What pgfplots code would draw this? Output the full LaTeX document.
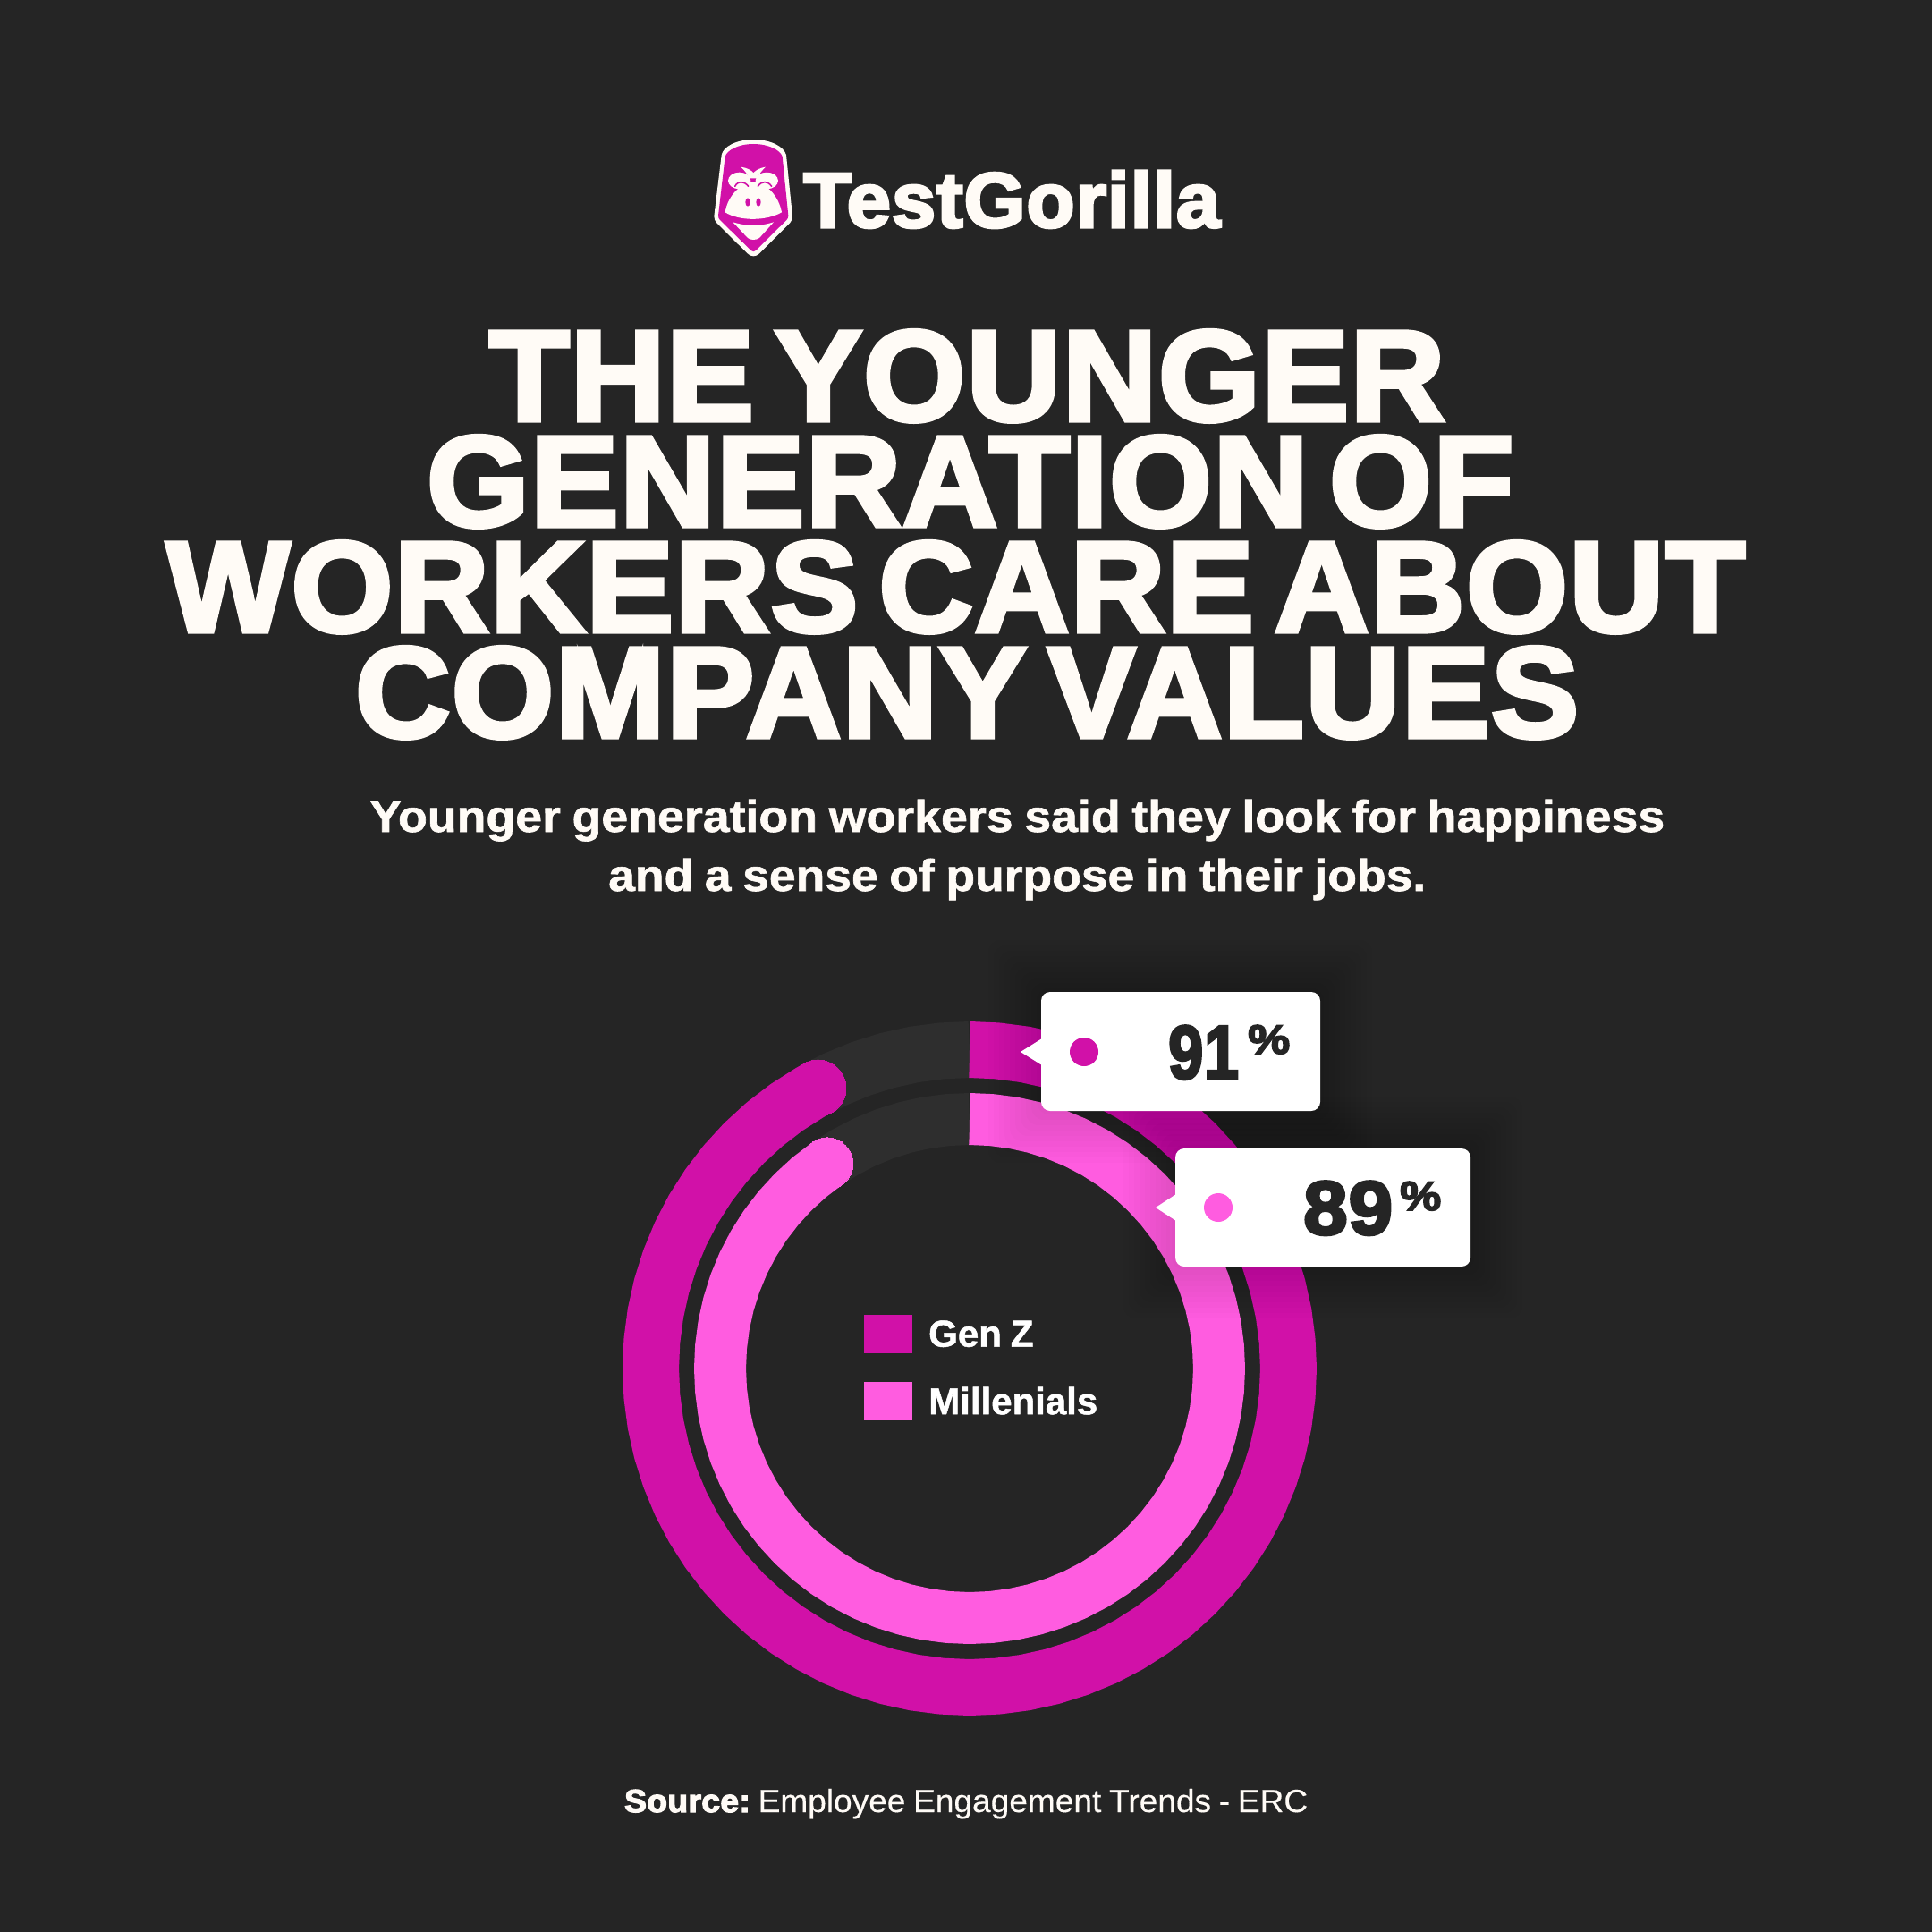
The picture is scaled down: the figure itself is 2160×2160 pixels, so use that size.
\documentclass[border=0pt]{standalone}
\usepackage{fontspec}
\usepackage{graphicx}
\usepackage{pgfplots}
\pgfplotsset{compat=1.18}
\setmainfont{Liberation Sans}
\newfontfamily\heavy{Liberation Sans}[WordSpace=0.55,LetterSpace=1.2,BoldFeatures={FakeBold=3.6}]
\newfontfamily\semi{Liberation Sans}[WordSpace=0.85,BoldFeatures={FakeBold=1.2}]
\newfontfamily\medium{Liberation Sans}[WordSpace=0.85,FakeBold=0.3]

\definecolor{bg}{HTML}{252525}
\definecolor{track}{HTML}{2E2E2E}
\definecolor{genz}{HTML}{D111A8}
\definecolor{mill}{HTML}{FF5CE0}
\definecolor{cream}{HTML}{FFFBF6}

% x, baseline y, width, text (pixel coordinates of the reference)
\newcommand{\fitline}[5]{\node[anchor=base west,inner sep=0pt,text=#5] at (#1pt,-#2pt) {\resizebox{#3pt}{\height}{#4}};}

\begin{document}
\begin{tikzpicture}
\fill[bg] (0,0) rectangle (2160pt,-2160pt);
\useasboundingbox (0,0) rectangle (2160pt,-2160pt);

% logo
\begin{scope}[shift={(780pt,-140pt)},x=0.3333pt,y=-0.3333pt]
  \fill[cream] (80,100) .. controls (85,72) and (130,48) .. (187,48) .. controls (245,48) and (290,72) .. (297,100)
    -- (318,305) .. controls (318,315) and (315,320) .. (310,327) -- (207,430) .. controls (196,442) and (178,442) .. (167,430)
    -- (63,327) .. controls (58,320) and (55,315) .. (55,305) -- cycle;
  \fill[genz] (92,105) .. controls (98,85) and (135,63) .. (187,63) .. controls (240,63) and (278,85) .. (284,105)
    -- (304,303) .. controls (304,310) and (302,314) .. (298,318) -- (195,420) .. controls (190,425) and (184,425) .. (179,420)
    -- (75,318) .. controls (71,314) and (69,310) .. (69,303) -- cycle;
  \fill[cream] (140,186) ellipse[x radius=38,y radius=28];
  \fill[cream] (232,186) ellipse[x radius=38,y radius=28];
  \fill[cream] (92,292) .. controls (100,240) and (140,195) .. (187,190) .. controls (235,195) and (272,240) .. (282,292)
    .. controls (230,322) and (140,322) .. (92,292) -- cycle;
  \fill[cream] (145,140) .. controls (165,143) and (180,150) .. (187,160) .. controls (195,150) and (210,143) .. (228,140)
    .. controls (215,152) and (205,165) .. (200,178) -- (172,178) .. controls (168,165) and (158,152) .. (145,140) -- cycle;
  \draw[genz,line width=1.6pt,line cap=round] (125,205) .. controls (135,186) and (155,186) .. (170,205);
  \draw[genz,line width=1.6pt,line cap=round] (202,205) .. controls (215,186) and (235,186) .. (248,205);
  \fill[genz] (168,258) ellipse[x radius=8,y radius=14];
  \fill[genz] (204,258) ellipse[x radius=8,y radius=14];
  \fill[cream] (118,325) .. controls (170,340) and (205,340) .. (255,325) -- (207,378) .. controls (195,386) and (178,386) .. (168,378) -- cycle;
\end{scope}
\fitline{898}{254}{466}{\heavy\bfseries\fontsize{87}{87}\selectfont TestGorilla}{cream}

% title
\fitline{547}{470}{1068}{\heavy\bfseries\fontsize{144}{144}\selectfont THE YOUNGER}{cream}
\fitline{477}{588}{1215}{\heavy\bfseries\fontsize{144}{144}\selectfont GENERATION OF}{cream}
\fitline{186}{706}{1765}{\heavy\bfseries\fontsize{144}{144}\selectfont WORKERS CARE ABOUT}{cream}
\fitline{397}{824}{1368}{\heavy\bfseries\fontsize{144}{144}\selectfont COMPANY VALUES}{cream}

% subtitle
\fitline{413}{930}{1448}{\semi\bfseries\fontsize{50}{50}\selectfont Younger generation workers said they look for happiness}{cream}
\fitline{680}{996}{914}{\semi\bfseries\fontsize{50}{50}\selectfont and a sense of purpose in their jobs.}{cream}

\begin{axis}[
    at={(1084pt,-1530pt)},anchor=center,
    scale only axis,width=800pt,height=800pt,
    xmin=-400,xmax=400,ymin=-400,ymax=400,
    hide axis,clip=false,
    data cs=polar,
    legend style={at={(axis cs:-118,60)},anchor=north west,draw=none,fill=none,
        font=\fontsize{42}{42}\selectfont\semi\bfseries,text=white,
        inner sep=0pt,row sep=32pt,
        /tikz/every odd column/.append style={column sep=16pt}},
    legend cell align=left,
    legend image code/.code={\fill[#1,draw=none] (0pt,-21.5pt) rectangle (54pt,21.5pt);},
]
% tracks
\addplot[forget plot,track,line width=63pt] coordinates {(90,356.5)(95,356.5)(100,356.5)(105,356.5)(110,356.5)(115,356.5)(120,356.5)};
\addplot[forget plot,track,line width=58pt] coordinates {(90,279)(95,279)(100,279)(105,279)(110,279)(115,279)(120,279)(125,279)};
% Gen Z, 91
\addplot[genz,line width=63pt,line join=round] coordinates {
(90,356.5)(89.9,356.5)(85,356.5)(80,356.5)(75,356.5)(70,356.5)(65,356.5)(60,356.5)(55,356.5)(50,356.5)(45,356.5)(40,356.5)(35,356.5)(30,356.5)(25,356.5)(20,356.5)(15,356.5)(10,356.5)(5,356.5)
(0,356.5)(-5,356.5)(-10,356.5)(-15,356.5)(-20,356.5)(-25,356.5)(-30,356.5)(-35,356.5)(-40,356.5)(-45,356.5)(-50,356.5)(-55,356.5)(-60,356.5)(-65,356.5)(-70,356.5)(-75,356.5)(-80,356.5)(-85,356.5)
(-90,356.5)(-95,356.5)(-100,356.5)(-105,356.5)(-110,356.5)(-115,356.5)(-120,356.5)(-125,356.5)(-130,356.5)(-135,356.5)(-140,356.5)(-145,356.5)(-150,356.5)(-155,356.5)(-160,356.5)(-165,356.5)(-170,356.5)(-175,356.5)
(-180,356.5)(-185,356.5)(-190,356.5)(-195,356.5)(-200,356.5)(-205,356.5)(-210,356.5)(-215,356.5)(-220,356.5)(-225,356.5)(-230,356.5)(-235,356.5)(-240,356.5)(-241.6,356.5)};
\addlegendentry{Gen Z}
% Millenials, 89
\addplot[mill,line width=58pt,line join=round] coordinates {
(90,279)(89.9,279)(85,279)(80,279)(75,279)(70,279)(65,279)(60,279)(55,279)(50,279)(45,279)(40,279)(35,279)(30,279)(25,279)(20,279)(15,279)(10,279)(5,279)
(0,279)(-5,279)(-10,279)(-15,279)(-20,279)(-25,279)(-30,279)(-35,279)(-40,279)(-45,279)(-50,279)(-55,279)(-60,279)(-65,279)(-70,279)(-75,279)(-80,279)(-85,279)
(-90,279)(-95,279)(-100,279)(-105,279)(-110,279)(-115,279)(-120,279)(-125,279)(-130,279)(-135,279)(-140,279)(-145,279)(-150,279)(-155,279)(-160,279)(-165,279)(-170,279)(-175,279)
(-180,279)(-185,279)(-190,279)(-195,279)(-200,279)(-205,279)(-210,279)(-215,279)(-220,279)(-225,279)(-230,279)(-235.2,279)};
\addlegendentry{Millenials}
% round ends
\addplot[forget plot,only marks,genz,mark=*,mark size=31.5pt,mark options={fill=genz,draw=genz,line width=0pt}] coordinates {(-241.6,356.5)};
\addplot[forget plot,only marks,mill,mark=*,mark size=29pt,mark options={fill=mill,draw=mill,line width=0pt}] coordinates {(-235.2,279)};
\end{axis}

% soft shadows under the cards
\foreach \e in {4,10,...,58} {
  \fill[black,opacity=0.012,rounded corners=14pt] (1163pt-\e pt,-1109pt+\e pt) rectangle (1476pt+\e pt,-1242pt-\e pt);
  \fill[black,opacity=0.012,rounded corners=14pt] (1314pt-\e pt,-1284pt+\e pt) rectangle (1644pt+\e pt,-1416pt-\e pt);
}
% card 91
\fill[white,rounded corners=10pt] (1164pt,-1109pt) rectangle (1476pt,-1242pt);
\fill[white] (1165pt,-1161pt) -- (1141pt,-1176pt) -- (1165pt,-1191pt) -- cycle;
\fill[genz] (1212pt,-1176pt) circle (16pt);
\fitline{1306}{1206}{79}{\heavy\bfseries\fontsize{85}{85}\selectfont 91}{bg}
\fitline{1395}{1178}{47}{\heavy\bfseries\fontsize{46}{46}\selectfont\%}{bg}
% card 89
\fill[white,rounded corners=10pt] (1314pt,-1284pt) rectangle (1644pt,-1416pt);
\fill[white] (1315pt,-1335pt) -- (1292pt,-1350pt) -- (1315pt,-1365pt) -- cycle;
\fill[mill] (1362pt,-1350pt) circle (16pt);
\fitline{1457}{1380}{100}{\heavy\bfseries\fontsize{85}{85}\selectfont 89}{bg}
\fitline{1565}{1353}{46}{\heavy\bfseries\fontsize{46}{46}\selectfont\%}{bg}

% source
\node[anchor=base west,inner sep=0pt,text=cream] at (698pt,-2026pt) {\resizebox{764pt}{\height}{\fontsize{36}{36}\selectfont{\heavy\bfseries Source:}\medium\ Employee Engagement Trends - ERC}};
\end{tikzpicture}
\end{document}
